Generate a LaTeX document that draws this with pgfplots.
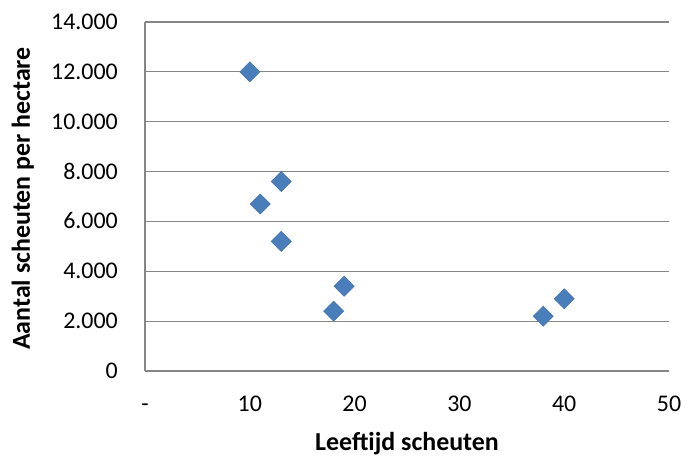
\documentclass[border=0pt]{standalone}
\usepackage{fontspec}
\setmainfont{Carlito}
\usepackage{pgfplots}
\pgfplotsset{compat=1.18}
\definecolor{gridgray}{RGB}{134,134,134}
\definecolor{mfill}{RGB}{74,126,187}
\definecolor{mdraw}{RGB}{64,112,172}
\begin{document}
\begin{tikzpicture}
\begin{axis}[
  width=524bp, height=349bp, scale only axis,
  xmin=0, xmax=50, ymin=0, ymax=14000,
  scaled ticks=false,
  xtick={0,10,20,30,40,50}, xticklabels={-,10,20,30,40,50},
  ytick={0,2000,4000,6000,8000,10000,12000,14000},
  yticklabels={0,2.000,4.000,6.000,8.000,10.000,12.000,14.000},
  axis x line*=bottom, axis y line*=left,
  axis line style={gridgray, line width=1.2bp, -},
  ymajorgrids, grid style={gridgray, line width=1.2bp},
  major tick length=0pt,
  tick label style={font=\fontsize{24}{28}\selectfont, text height=15bp, text depth=0pt, inner sep=0pt},
  yticklabel style={anchor=east, xshift=-27bp},
  xticklabel style={anchor=center, yshift=-33bp},
  label style={font=\bfseries\fontsize{26}{30}\selectfont, inner sep=0pt},
  xlabel={Leeftijd scheuten}, ylabel={Aantal scheuten per hectare},
  xlabel style={at={(axis description cs:0.5,-0.2264)}, anchor=base},
  ylabel style={at={(axis description cs:-0.2195,0.494)}, anchor=base},
]
\addplot[only marks, mark=square*, mark size=7.1bp,
  mark options={rotate=45, fill=mfill, draw=mdraw, line width=0.5bp}]
  coordinates {
  (10,12000) (11,6700) (13,7600) (13,5200)
  (18,2400) (19,3400) (38,2200) (40,2900)
  };
\end{axis}
\pgfresetboundingbox
\path (-145bp,-93bp) rectangle (544bp,371bp);
\end{tikzpicture}
\end{document}
